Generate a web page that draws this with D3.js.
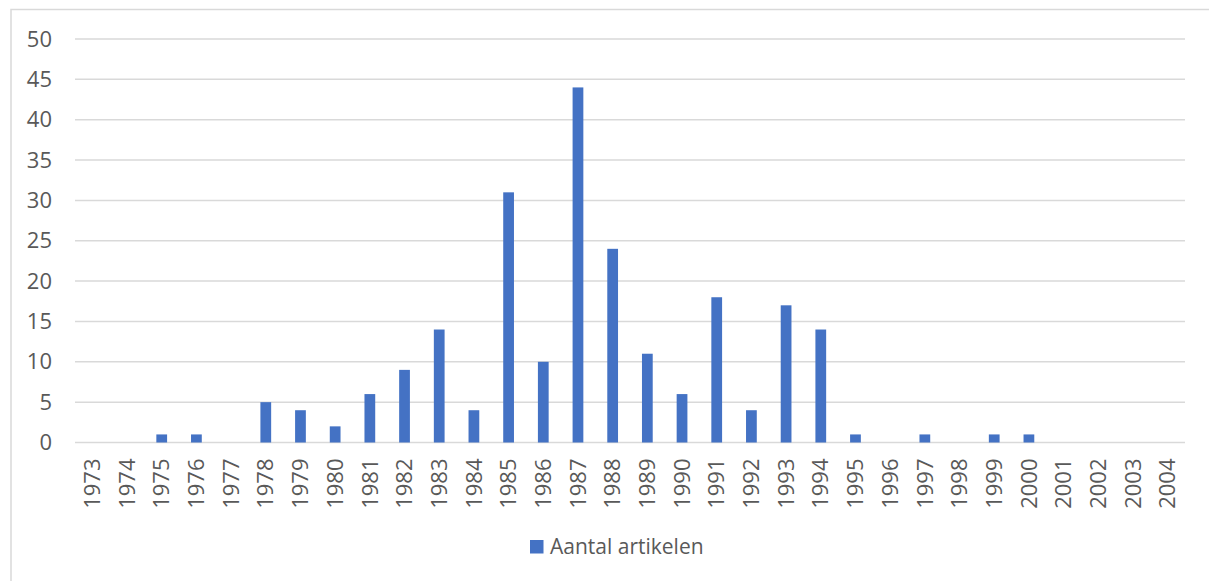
<!DOCTYPE html>
<html>
<head>
<meta charset="utf-8">
<script src="https://cdn.jsdelivr.net/npm/d3@7"></script>
<style>
  html, body { margin: 0; padding: 0; background: #fff; }
  svg { display: block; font-family: "Open Sans", "Noto Sans", sans-serif; }
</style>
</head>
<body>
<svg id="chart" width="1209" height="581"></svg>
<script>
  const years = [
    '1973', '1974', '1975', '1976', '1977', '1978', '1979', '1980',
    '1981', '1982', '1983', '1984', '1985', '1986', '1987', '1988',
    '1989', '1990', '1991', '1992', '1993', '1994', '1995', '1996',
    '1997', '1998', '1999', '2000', '2001', '2002', '2003', '2004'
  ];
  const articles = [
    0, 0, 1, 1, 0, 5, 4, 2,
    6, 9, 14, 4, 31, 10, 44, 24,
    11, 6, 18, 4, 17, 14, 1, 0,
    1, 0, 1, 1, 0, 0, 0, 0
  ];
  const yTicks = [0, 5, 10, 15, 20, 25, 30, 35, 40, 45, 50];
  const seriesName = 'Aantal artikelen';

  const width = 1209;
  const height = 581;
  const margin = { top: 39, right: 24, bottom: 138.5, left: 75 };
  const barColor = '#4472c4';
  const textColor = '#595959';

  const svg = d3.select('#chart');

  // chart frame (left and top edges visible in the picture)
  svg.append('rect')
    .attr('x', 11)
    .attr('y', 9.5)
    .attr('width', width + 20)
    .attr('height', height + 20)
    .attr('fill', 'none')
    .attr('stroke', '#d9d9d9')
    .attr('stroke-width', 1.5);

  const x = d3.scaleBand()
    .domain(years)
    .range([margin.left, width - margin.right])
    .paddingInner(0.69)
    .paddingOuter(0.345);

  const y = d3.scaleLinear()
    .domain([0, 50])
    .range([height - margin.bottom, margin.top]);

  // gridlines
  svg.append('g')
    .selectAll('line')
    .data(yTicks)
    .join('line')
    .attr('x1', margin.left)
    .attr('x2', width - margin.right)
    .attr('y1', d => y(d))
    .attr('y2', d => y(d))
    .attr('stroke', '#d9d9d9')
    .attr('stroke-width', 1.5);

  // y axis labels
  const yAxis = d3.axisLeft(y).tickValues(yTicks).tickSize(0).tickPadding(0);
  svg.append('g')
    .attr('transform', `translate(52,0)`)
    .call(yAxis)
    .call(g => g.select('.domain').remove())
    .call(g => g.selectAll('text')
      .attr('fill', textColor)
      .style('font-size', '22px')
      .style('font-family', '"Open Sans", sans-serif'));

  // bars
  svg.append('g')
    .selectAll('rect')
    .data(years.map((yr, i) => ({ year: yr, value: articles[i] })))
    .join('rect')
    .attr('x', d => x(d.year))
    .attr('width', x.bandwidth())
    .attr('y', d => y(d.value))
    .attr('height', d => y(0) - y(d.value))
    .attr('fill', barColor);

  // x axis labels, rotated
  const xAxis = d3.axisBottom(x).tickSize(0).tickPadding(0);
  svg.append('g')
    .attr('transform', `translate(0,${y(0)})`)
    .call(xAxis)
    .call(g => g.select('.domain').remove())
    .call(g => g.selectAll('text')
      .attr('fill', textColor)
      .style('font-size', '22px')
      .style('font-family', '"Open Sans", sans-serif')
      .attr('text-anchor', 'end')
      .attr('transform', 'rotate(-90)')
      .attr('x', -16)
      .attr('y', 0)
      .attr('dy', '0.35em'));

  // legend
  const legend = svg.append('g').attr('transform', 'translate(530,540)');
  legend.append('rect')
    .attr('width', 13.5)
    .attr('height', 13.5)
    .attr('fill', barColor);
  legend.append('text')
    .attr('x', 20)
    .attr('y', 7)
    .attr('dy', '0.35em')
    .attr('fill', textColor)
    .style('font-size', '21px')
    .text(seriesName);
</script>
</body>
</html>
